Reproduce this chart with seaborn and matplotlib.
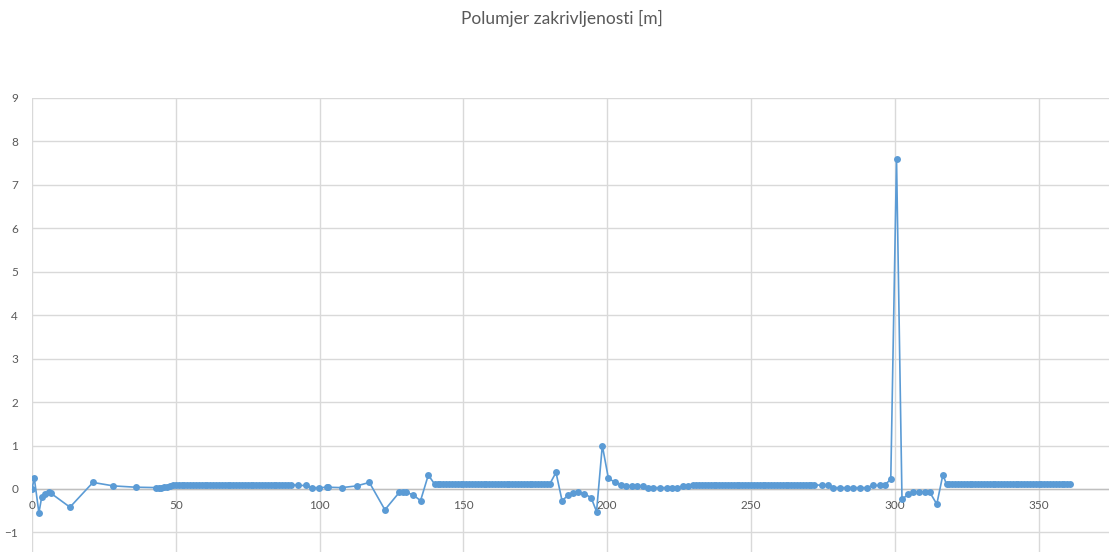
import matplotlib
matplotlib.use("Agg")
import matplotlib.pyplot as plt
import seaborn as sns
import pandas as pd

# Stationing along the route [m] and radius of curvature values
station = [
    0.0, 0.8, 2.4, 3.4, 4.5, 6.0, 6.6, 13.2, 21.2, 28.3, 36.0,
    43, 44, 45, 46, 47, 48, 49,
    50, 51, 52, 53, 54, 55, 56, 57, 58, 59, 60, 61, 62, 63, 64, 65, 66, 67, 68, 69, 70,
    71, 72, 73, 74, 75, 76, 77, 78, 79, 80, 81, 82, 83, 84, 85, 86, 87, 88, 89, 90,
    92.5, 95.3, 97.2, 99.9, 102.4, 102.8, 107.7, 112.9, 117.3, 122.7,
    127.7, 128.9, 130.0, 132.4, 135.1, 137.8,
    140, 141, 142, 143, 144, 145, 146, 147, 148, 149, 150, 151, 152, 153, 154, 155, 156,
    157, 158, 159, 160, 161, 162, 163, 164, 165, 166, 167, 168, 169, 170, 171, 172, 173,
    174, 175, 176, 177, 178, 179, 180,
    182.2, 184.3, 186.5, 188.2, 190.0, 192.0, 194.4, 196.3, 198.3, 200.4, 202.7, 204.7,
    206.5, 208.5, 210.2, 212.6, 214.3, 216.0, 218.4, 220.7, 222.4, 224.2, 226.5, 228.2,
    230, 231, 232, 233, 234, 235, 236, 237, 238, 239, 240, 241, 242, 243, 244, 245, 246,
    247, 248, 249, 250, 251, 252, 253, 254, 255, 256, 257, 258, 259, 260, 261, 262, 263,
    264, 265, 266, 267, 268, 269, 270, 271, 272,
    274.6, 276.7, 278.6, 280.9, 283.3, 285.6, 287.9, 290.2, 292.5, 294.9, 296.6, 298.6,
    300.6, 302.5, 304.7, 306.5, 308.5, 310.5, 312.2, 314.6, 316.7,
    318, 319, 320, 321, 322, 323, 324, 325, 326, 327, 328, 329, 330, 331, 332, 333, 334,
    335, 336, 337, 338, 339, 340, 341, 342, 343, 344, 345, 346, 347, 348, 349, 350, 351,
    352, 353, 354, 355, 356, 357, 358, 359, 360, 361,
]
radius = [
    0.0, 0.25, -0.55, -0.18, -0.12, -0.08, -0.10, -0.42, 0.15, 0.07, 0.04,
    0.03, 0.03, 0.03, 0.04, 0.05, 0.07, 0.08,
    0.10, 0.10, 0.10, 0.10, 0.10, 0.10, 0.10, 0.10, 0.10, 0.10, 0.10, 0.10, 0.10, 0.10,
    0.10, 0.10, 0.10, 0.10, 0.10, 0.10, 0.10, 0.10, 0.10, 0.10, 0.10, 0.10, 0.10, 0.10,
    0.10, 0.10, 0.10, 0.10, 0.10, 0.10, 0.10, 0.10, 0.10, 0.10, 0.10, 0.10, 0.10,
    0.08, 0.08, 0.03, 0.03, 0.04, 0.04, 0.03, 0.07, 0.15, -0.48,
    -0.08, -0.08, -0.08, -0.13, -0.27, 0.32,
    0.11, 0.11, 0.11, 0.11, 0.11, 0.11, 0.11, 0.11, 0.11, 0.11, 0.11, 0.11, 0.11, 0.11,
    0.11, 0.11, 0.11, 0.11, 0.11, 0.11, 0.11, 0.11, 0.11, 0.11, 0.11, 0.11, 0.11, 0.11,
    0.11, 0.11, 0.11, 0.11, 0.11, 0.11, 0.11, 0.11, 0.11, 0.11, 0.11, 0.11, 0.11,
    0.38, -0.27, -0.14, -0.10, -0.08, -0.11, -0.20, -0.52, 1.00, 0.25, 0.15, 0.10,
    0.07, 0.06, 0.06, 0.06, 0.03, 0.03, 0.03, 0.03, 0.03, 0.03, 0.07, 0.07,
    0.10, 0.10, 0.10, 0.10, 0.10, 0.10, 0.10, 0.10, 0.10, 0.10, 0.10, 0.10, 0.10, 0.10,
    0.10, 0.10, 0.10, 0.10, 0.10, 0.10, 0.10, 0.10, 0.10, 0.10, 0.10, 0.10, 0.10, 0.10,
    0.10, 0.10, 0.10, 0.10, 0.10, 0.10, 0.10, 0.10, 0.10, 0.10, 0.10, 0.10, 0.10, 0.10,
    0.10,
    0.08, 0.08, 0.03, 0.03, 0.03, 0.03, 0.03, 0.03, 0.08, 0.08, 0.10, 0.22,
    7.60, -0.24, -0.12, -0.08, -0.07, -0.07, -0.08, -0.35, 0.32,
    0.11, 0.11, 0.11, 0.11, 0.11, 0.11, 0.11, 0.11, 0.11, 0.11, 0.11, 0.11, 0.11, 0.11,
    0.11, 0.11, 0.11, 0.11, 0.11, 0.11, 0.11, 0.11, 0.11, 0.11, 0.11, 0.11, 0.11, 0.11,
    0.11, 0.11, 0.11, 0.11, 0.11, 0.11, 0.11, 0.11, 0.11, 0.11, 0.11, 0.11, 0.11, 0.11,
    0.11, 0.11,
]

x_ticks = [0, 50, 100, 150, 200, 250, 300, 350]
y_ticks = [-1, 0, 1, 2, 3, 4, 5, 6, 7, 8, 9]
title = "Polumjer zakrivljenosti [m]"

df = pd.DataFrame({"stacionaža": station, "polumjer": radius})

sns.set_theme(style="white")
plt.rcParams["font.family"] = ["Lato", "DejaVu Sans"]

W, H = 1109, 552
fig = plt.figure(figsize=(W / 100, H / 100), dpi=100)
ax = fig.add_axes([32 / W, 0.0, 1 - 32 / W, (H - 98) / H])

blue = "#5B9BD5"
grid = "#D9D9D9"
label_col = "#595959"

sns.lineplot(data=df, x="stacionaža", y="polumjer", ax=ax, sort=False,
             estimator=None, color=blue, linewidth=1.2, marker="o",
             markersize=5.0, markeredgewidth=0, zorder=3)

ax.set_xlim(0, (W - 32) / 2.876)
ax.set_ylim(-(H - 489) / 43.4, 9)
ax.set_xticks(x_ticks)
ax.set_yticks(y_ticks)
ax.grid(True, color=grid, linewidth=1.0, zorder=0)

for side in ("top", "right", "left"):
    ax.spines[side].set_visible(False)
ax.spines["bottom"].set_position(("data", 0))
ax.spines["bottom"].set_color("#BFBFBF")
ax.spines["bottom"].set_linewidth(1.0)
ax.spines["bottom"].set_zorder(1)

ax.tick_params(axis="x", length=0, pad=8, labelsize=8.5, labelcolor=label_col)
ax.tick_params(axis="y", length=0, pad=10, labelsize=8.5, labelcolor=label_col)
ax.set_xlabel("")
ax.set_ylabel("")

fig.text(0.507, 1 - 18 / H, title, ha="center", va="center",
         fontsize=12.5, color=label_col)

fig.savefig("out.png", dpi=100)
